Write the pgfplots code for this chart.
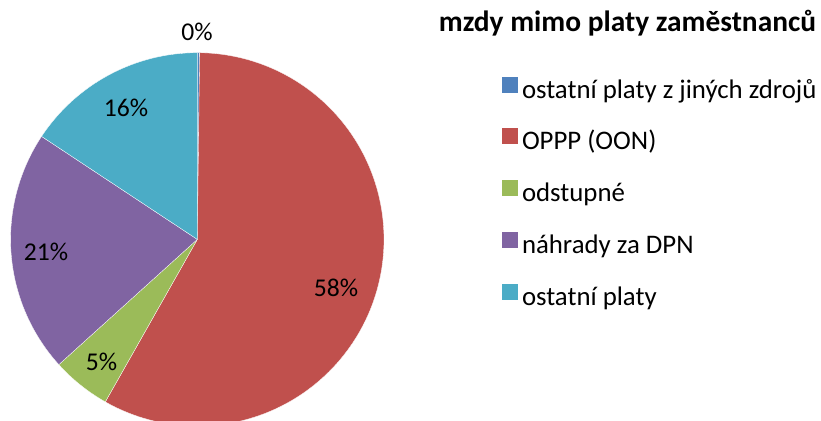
\documentclass[border=0pt]{standalone}
\usepackage{fontspec}
\setmainfont{Carlito}
\usepackage{pgfplots}
\pgfplotsset{compat=1.18}
\definecolor{cblue}{HTML}{4F81BD}
\definecolor{cred}{HTML}{C0504D}
\definecolor{cgreen}{HTML}{9BBB59}
\definecolor{cpurple}{HTML}{8064A2}
\definecolor{ccyan}{HTML}{4BACC6}
% slice: start percentage, end percentage (cumulative), colour
\newcommand\slice[3]{%
  \addplot[draw=white, line width=0.3bp, fill=#3, domain={#1*3.6}:{#2*3.6}, samples=150, variable=\t,
    legend image code/.code={\fill[#3] (0bp,0bp) rectangle (15bp,15bp); \path (19.5bp,0bp);}]
    ({197.3+186.7*sin(t)},{181.6+186.7*cos(t)}) -- (axis cs:197.3,181.6) -- cycle;}
\newcommand\bigfont{\fontsize{25.6bp}{30bp}\selectfont}
\newcommand\legfont{\fontsize{26.8bp}{31bp}\selectfont}
\newcommand\titlefont{\fontsize{29.4bp}{34bp}\selectfont}
\begin{document}
\begin{tikzpicture}
\begin{axis}[
  scale only axis, width=821bp, height=421bp,
  xmin=0, xmax=821, ymin=0, ymax=421,
  hide axis,
  legend style={draw=none, fill=none, at={(0.61145,0.8183)}, anchor=north west,
    inner sep=0pt, row sep=23.9bp, font=\legfont,
    nodes={inner sep=0pt, text height=19bp, text depth=6.5bp},
    cells={anchor=west}},
]
% values (%): ostatni platy z jinych zdroju 0.2, OPPP 58.0, odstupne 5.1, nahrady za DPN 21.0, ostatni platy 15.7
\slice{0}{0.2}{cblue}
\addlegendentry{ostatní platy z jiných zdrojů}
\slice{0.2}{58.2}{cred}
\addlegendentry{OPPP (OON)}
\slice{58.2}{63.3}{cgreen}
\addlegendentry{odstupné}
\slice{63.3}{84.3}{cpurple}
\addlegendentry{náhrady za DPN}
\slice{84.3}{100}{ccyan}
\addlegendentry{ostatní platy}
\node[font=\bigfont, inner sep=0pt] at (axis cs:197,389.5) {0\%};
\node[font=\bigfont, inner sep=0pt] at (axis cs:336,133) {58\%};
\node[font=\bigfont, inner sep=0pt] at (axis cs:101.5,59) {5\%};
\node[font=\bigfont, inner sep=0pt] at (axis cs:46,169) {21\%};
\node[font=\bigfont, inner sep=0pt] at (axis cs:126,313) {16\%};
\node[font=\bfseries\titlefont, anchor=base, inner sep=0pt] at (axis cs:627.5,389.3) {mzdy mimo platy zaměstnanců};
\end{axis}
\pgfresetboundingbox
\useasboundingbox (0,0) rectangle (821bp,421bp);
\end{tikzpicture}
\end{document}
